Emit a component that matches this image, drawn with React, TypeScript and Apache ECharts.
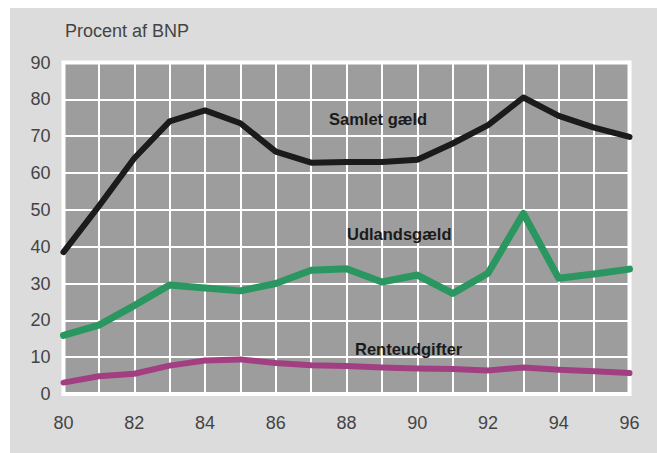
import React, { useEffect, useRef } from "react";
import * as echarts from "echarts";

const years = [80, 81, 82, 83, 84, 85, 86, 87, 88, 89, 90, 91, 92, 93, 94, 95, 96];
const samletGaeld = [38.5, 51, 64, 74, 77, 73.5, 65.8, 62.8, 63, 63, 63.6, 68, 73, 80.5, 75.5, 72.3, 69.8];
const udlandsgaeld = [15.9, 18.7, 24, 29.6, 28.8, 28, 30, 33.6, 34, 30.4, 32.3, 27.3, 32.8, 49, 31.4, 32.6, 33.9];
const renteudgifter = [3.1, 4.8, 5.5, 7.7, 9.1, 9.4, 8.4, 7.8, 7.6, 7.2, 6.9, 6.8, 6.4, 7.2, 6.6, 6.2, 5.7];
const yTicks = [0, 10, 20, 30, 40, 50, 60, 70, 80, 90];
const xTickLabels = ["80", "82", "84", "86", "88", "90", "92", "94", "96"];

const FONT = "'Liberation Sans', Arial, sans-serif";

export default function App() {
  const ref = useRef<HTMLDivElement>(null);
  useEffect(() => {
    if (!ref.current) return;
    const chart = echarts.init(ref.current, null, { renderer: "svg" });
    const pair = (arr: number[]) => years.map((y, i) => [y, arr[i]]);
    const label = (text: string, left: number, top: number) => ({
      type: "text",
      left,
      top,
      z: 100,
      style: { text, fontSize: 16.5, fontWeight: "bold", fill: "#1a1a1a", fontFamily: FONT },
    });
    chart.setOption({
      animation: false,
      backgroundColor: "#ffffff",
      textStyle: { fontFamily: FONT },
      graphic: [
        {
          type: "rect",
          z: -10,
          silent: true,
          shape: { x: 10, y: 8, width: 660, height: 460 },
          style: { fill: "#dcdcdc" },
        },
        {
          type: "text",
          left: 65,
          top: 22,
          z: 100,
          style: { text: "Procent af BNP", fontSize: 18, fill: "#444", fontFamily: FONT },
        },
        label("Samlet gæld", 329, 110),
        label("Udlandsgæld", 347, 225),
        label("Renteudgifter", 355, 340),
      ],
      grid: {
        left: 63.5,
        right: 27.5,
        top: 62.5,
        bottom: 59,
        show: true,
        backgroundColor: "#9d9d9d",
        borderColor: "#ffffff",
        borderWidth: 4,
        z: 0,
      },
      xAxis: {
        type: "value",
        min: 80,
        max: 96,
        interval: 1,
        axisLine: { show: false },
        axisTick: { show: false },
        splitLine: { show: true, lineStyle: { color: "#ffffff", width: 2 } },
        axisLabel: {
          margin: 20,
          fontSize: 18,
          color: "#444",
          fontFamily: FONT,
          formatter: (v: number) => {
            const s = String(Math.round(v));
            return xTickLabels.includes(s) ? s : "";
          },
        },
      },
      yAxis: {
        type: "value",
        min: yTicks[0],
        max: yTicks[yTicks.length - 1],
        interval: 10,
        axisLine: { show: false },
        axisTick: { show: false },
        splitLine: { show: true, lineStyle: { color: "#ffffff", width: 2 } },
        axisLabel: { margin: 13, fontSize: 18, color: "#444", fontFamily: FONT },
      },
      series: [
        {
          name: "Samlet gæld",
          type: "line",
          data: pair(samletGaeld),
          symbol: "none",
          lineStyle: { color: "#1c1a1a", width: 6, cap: "round", join: "round" },
          z: 5,
        },
        {
          name: "Udlandsgæld",
          type: "line",
          data: pair(udlandsgaeld),
          symbol: "none",
          lineStyle: { color: "#2a9660", width: 7, cap: "round", join: "round" },
          z: 5,
        },
        {
          name: "Renteudgifter",
          type: "line",
          data: pair(renteudgifter),
          symbol: "none",
          lineStyle: { color: "#a23f82", width: 6, cap: "round", join: "round" },
          z: 5,
        },
      ],
    });
    return () => chart.dispose();
  }, []);
  return (
    <div
      ref={ref}
      style={{ position: "fixed", left: 0, top: 0, width: 657, height: 453 }}
    />
  );
}
